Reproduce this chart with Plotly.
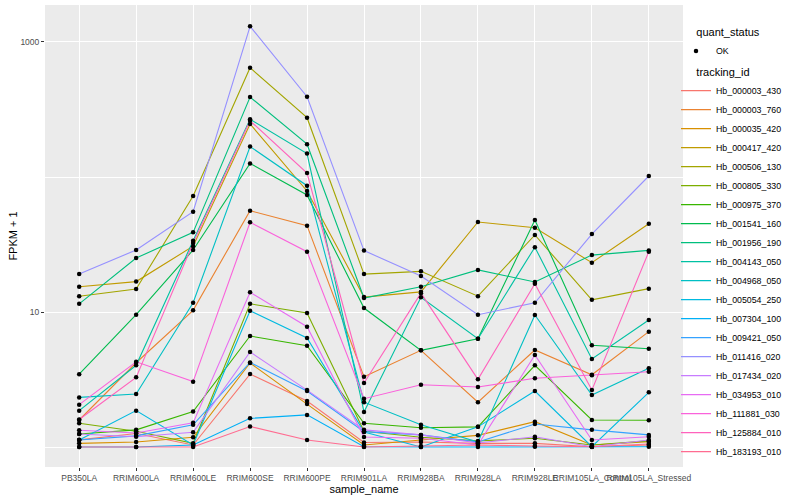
import plotly.graph_objects as go

samples = ["PB350LA", "RRIM600LA", "RRIM600LE", "RRIM600SE", "RRIM600PE", "RRIM901LA",
           "RRIM928BA", "RRIM928LA", "RRIM928LE", "RRIM105LA_Control", "RRIM105LA_Stressed"]

tracking_ids = ["Hb_000003_430", "Hb_000003_760", "Hb_000035_420", "Hb_000417_420", "Hb_000506_130",
                "Hb_000805_330", "Hb_000975_370", "Hb_001541_160", "Hb_001956_190", "Hb_004143_050",
                "Hb_004968_050", "Hb_005054_250", "Hb_007304_100", "Hb_009421_050", "Hb_011416_020",
                "Hb_017434_020", "Hb_034953_010", "Hb_111881_030", "Hb_125884_010", "Hb_183193_010"]

# FPKM + 1 per sample
hb_000003_430 = [1.13, 1.26, 1.035, 3.47, 2.19, 1.08, 1.09, 1.065, 1.065, 1.005, 1.035]
hb_000003_760 = [1.585, 4.21, 10.3, 56.3, 43.6, 3.32, 5.2, 2.15, 5.23, 3.43, 7.15]
hb_000035_420 = [1.065, 1.09, 1.18, 4.19, 2.08, 1.035, 1.127, 1.22, 1.54, 1.035, 1.095]
hb_000417_420 = [15.4, 16.8, 30.7, 247, 78.8, 12.9, 14.1, 46.4, 42.1, 23.2, 45.1]
hb_000506_130 = [13.1, 14.8, 72.3, 645, 275, 19.1, 20.0, 13.1, 37.2, 12.3, 14.9]
hb_000805_330 = [1.50, 1.31, 1.065, 11.5, 9.83, 1.31, 1.18, 1.11, 1.16, 1.035, 1.11]
hb_000975_370 = [1.25, 1.34, 1.83, 6.64, 5.63, 1.50, 1.39, 1.41, 4.03, 1.585, 1.58]
hb_001541_160 = [3.46, 9.55, 28.8, 126, 73.6, 10.7, 5.2, 6.34, 48.0, 5.67, 5.35]
hb_001956_190 = [11.5, 25.1, 38.9, 391, 175, 12.7, 15.4, 20.5, 16.7, 26.4, 28.6]
hb_004143_050 = [1.86, 4.03, 33.7, 268, 149, 1.82, 12.85, 6.34, 30.2, 4.49, 8.72]
hb_004968_050 = [2.33, 2.47, 11.7, 168, 86.2, 2.15, 1.46, 1.09, 9.5, 2.43, 3.83]
hb_005054_250 = [1.127, 1.86, 1.035, 10.2, 6.42, 1.29, 1.0, 1.41, 2.60, 1.005, 2.54]
hb_007304_100 = [1.0, 1.0, 1.035, 1.63, 1.73, 1.005, 1.0, 1.0, 1.005, 1.0, 1.004]
hb_009421_050 = [1.127, 1.21, 1.46, 4.23, 2.60, 1.30, 1.23, 1.09, 1.48, 1.34, 1.23]
hb_011416_020 = [19.1, 28.8, 55.3, 1307, 393, 28.5, 18.5, 9.55, 11.7, 37.8, 101.7]
hb_017434_020 = [1.25, 1.19, 1.285, 5.06, 2.64, 1.34, 1.23, 1.07, 1.19, 1.005, 1.127]
hb_034953_010 = [1.33, 1.27, 1.51, 14.0, 7.78, 1.186, 1.16, 1.035, 4.80, 1.127, 1.19]
hb_111881_030 = [2.06, 4.28, 3.05, 46.2, 28.0, 2.28, 2.89, 2.78, 3.23, 3.40, 3.61]
hb_125884_010 = [1.60, 3.28, 32.4, 261, 107, 2.98, 13.8, 3.17, 16.2, 2.64, 28.0]
hb_183193_010 = [1.0, 1.0, 1.0, 1.42, 1.127, 1.0, 1.017, 1.035, 1.017, 1.005, 1.052]

series_values = [hb_000003_430, hb_000003_760, hb_000035_420, hb_000417_420, hb_000506_130,
                 hb_000805_330, hb_000975_370, hb_001541_160, hb_001956_190, hb_004143_050,
                 hb_004968_050, hb_005054_250, hb_007304_100, hb_009421_050, hb_011416_020,
                 hb_017434_020, hb_034953_010, hb_111881_030, hb_125884_010, hb_183193_010]

colors = ["#F8766D", "#EA8331", "#D89000", "#C09B00", "#A3A500", "#7CAE00", "#39B600", "#00BB4E",
          "#00BF7D", "#00C1A3", "#00BFC4", "#00BAE0", "#00B0F6", "#35A2FF", "#9590FF", "#C77CFF",
          "#E76BF3", "#FA62DB", "#FF62BC", "#FF6C91"]

FONT = "Liberation Sans, Arial, sans-serif"
PAD = "\u00a0" * 6

fig = go.Figure()
for tid, vals, col in zip(tracking_ids, series_values, colors):
    fig.add_trace(go.Scatter(x=samples, y=vals, mode="lines", name=tid,
                             line=dict(color=col, width=1.1), legend="legend2"))

all_x = [s for vals in series_values for s in samples]
all_y = [v for vals in series_values for v in vals]
fig.add_trace(go.Scatter(x=all_x, y=all_y, mode="markers", name="OK",
                         marker=dict(color="black", size=4.5), legend="legend"))

leg_x = (676 - 45) / 638

fig.update_layout(
    width=800, height=500,
    showlegend=True,
    margin=dict(l=45, r=117, t=5, b=33),
    paper_bgcolor="white", plot_bgcolor="#EBEBEB",
    font=dict(family=FONT, size=8.5, color="#4D4D4D"),
    legend=dict(title=dict(text=PAD + "quant_status", font=dict(size=11, color="black")),
                x=leg_x, y=0.963, xanchor="left", yanchor="top",
                font=dict(size=8.8, color="black"), bgcolor="rgba(0,0,0,0)",
                itemwidth=30, tracegroupgap=0),
    legend2=dict(title=dict(text=PAD + "tracking_id", font=dict(size=11, color="black")),
                 x=leg_x, y=0.877, xanchor="left", yanchor="top",
                 font=dict(size=8.8, color="black"), bgcolor="rgba(0,0,0,0)",
                 itemwidth=30, tracegroupgap=0),
)

fig.update_xaxes(type="category", categoryorder="array", categoryarray=samples,
                 range=[-0.6, 10.6], tickangle=0, showgrid=True, gridcolor="white", gridwidth=1.1,
                 ticks="outside", ticklen=3, tickcolor="#333333", zeroline=False, automargin=False,
                 tickfont=dict(size=8.5, color="#4D4D4D"),
                 title=dict(text="sample_name", font=dict(size=11, color="black"), standoff=2))

fig.update_yaxes(type="log", range=[-0.148, 3.274], tickmode="array", tickvals=[10, 1000],
                 ticktext=["10", "1000"], showgrid=True, gridcolor="white", gridwidth=1.1,
                 ticks="outside", ticklen=3, tickcolor="#333333", zeroline=False, automargin=False,
                 tickfont=dict(size=8.5, color="#4D4D4D"),
                 minor=dict(tickmode="array", tickvals=[1, 100], showgrid=True,
                            gridcolor="white", gridwidth=0.5, ticks=""),
                 title=dict(text="FPKM + 1", font=dict(size=11, color="black"), standoff=0))

fig.write_html("out.html", config={"displayModeBar": False},
               post_script="document.body.style.margin='0px';")
